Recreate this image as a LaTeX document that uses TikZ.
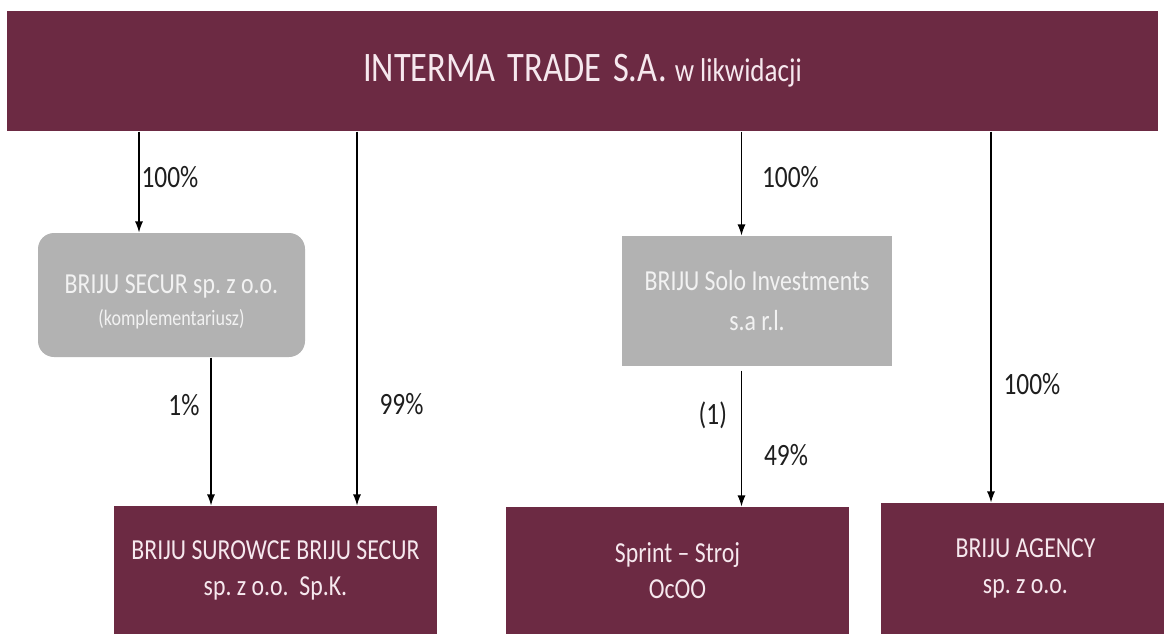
\documentclass[tikz,border=0pt]{standalone}
\usepackage{fontspec}
\setmainfont{Carlito}[FakeStretch=0.82]
\usepackage{xcolor}
\usepackage{tikz}
\usetikzlibrary{shapes, arrows.meta, positioning}
\frenchspacing

\definecolor{maroon}{RGB}{108,42,67}
\definecolor{boxgrey}{RGB}{178,178,178}
\definecolor{pinkwhite}{RGB}{246,232,238}
\definecolor{greytext}{RGB}{242,242,242}
\definecolor{labeltext}{RGB}{30,30,30}

\begin{document}
\begin{tikzpicture}[
        x=1pt, y=-1pt,
        >={Latex[length=11pt,width=8pt]},
        line width=1.1pt,
        company/.style={rectangle, fill=maroon, text=pinkwhite, align=center, inner sep=0pt, font=\fontsize{29}{36}\selectfont},
        holding/.style={rectangle, fill=boxgrey, text=greytext, align=center, inner sep=0pt, font=\fontsize{29}{40}\selectfont},
        pct/.style={text=labeltext, inner sep=0pt, font=\fontsize{31}{33}\selectfont}
    ]
    \useasboundingbox (0,0) rectangle (1164,634);

    \node[company, minimum width=1151pt, minimum height=120pt] (interma) at (582.5,71)
        {{\fontsize{42}{46}\selectfont INTERMA\hspace{12pt}TRADE\hspace{12pt}S.A.}\hspace{8pt}{\fontsize{33}{36}\selectfont w likwidacji}};

    \node[holding, rounded corners=16pt, minimum width=267pt, minimum height=124pt] (secur) at (171.5,295)
        {\raisebox{-6pt}[\height][\depth]{\begin{tabular}{@{}c@{}}
            BRIJU SECUR sp. z o.o. \\[-8pt]
            {\fontsize{22}{26}\selectfont (komplementariusz)}
        \end{tabular}}};
    \node[holding, minimum width=270pt, minimum height=130pt] (solo) at (757,301)
        {BRIJU Solo Investments\\s.a r.l.};

    \node[company, minimum width=323pt, minimum height=128pt] (surowce) at (275.5,570)
        {BRIJU SUROWCE BRIJU SECUR\\sp. z o.o.\ \ Sp.K.};
    \node[company, minimum width=343pt, minimum height=127pt] (sprint) at (677.5,570.5)
        {Sprint -- Stroj\\OcOO};
    \node[company, minimum width=289pt, minimum height=131pt] (agency) at (1025.5,568.5)
        {BRIJU AGENCY\\sp. z o.o.};

    \coordinate (toSecur) at ([xshift=-32.5pt]secur.north);
    \coordinate (toSurowce) at ([xshift=81.5pt]surowce.north);
    \coordinate (toSolo) at ([xshift=-15.5pt]solo.north);
    \coordinate (toAgency) at ([xshift=-34.5pt]agency.north);
    \coordinate (fromSecur) at ([xshift=39.5pt]secur.south);
    \coordinate (fromSolo) at ([xshift=-15.5pt]solo.south);

    % Shares held by INTERMA
    \draw[->] (toSecur |- interma.south) -- node[pct, right=2pt, pos=.45] {100\%} (toSecur);
    \draw[->] (toSurowce |- interma.south) -- node[pct, right=22pt, pos=.73] {99\%} (toSurowce);
    \draw[->] (toSolo |- interma.south) -- node[pct, right=20pt, pos=.44] {100\%} (toSolo);
    \draw[->] (toAgency |- interma.south) -- node[pct, right=12pt, pos=.68] {100\%} (toAgency);

    % Shares held by the subsidiaries
    \draw[->] (fromSecur) -- node[pct, left=11pt, pos=.32] {1\%} (fromSecur |- surowce.north);
    \draw[->] ([yshift=-4pt]fromSolo) -- node[pct, left=14pt, pos=.33] {(1)}
        node[pct, right=22pt, pos=.62] {49\%} (fromSolo |- sprint.north);
\end{tikzpicture}
\end{document}
